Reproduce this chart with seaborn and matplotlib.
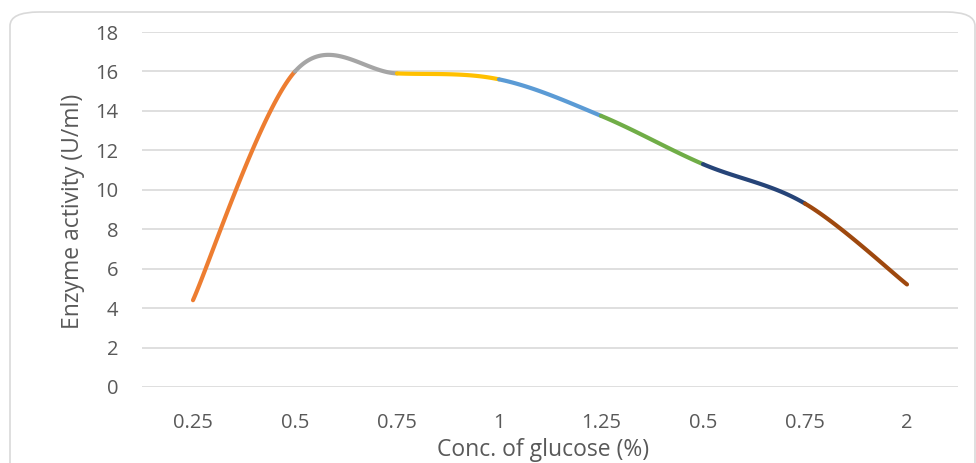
import numpy as np
import pandas as pd
import matplotlib
matplotlib.use("Agg")
import matplotlib.pyplot as plt
import seaborn as sns
from matplotlib.patches import FancyBboxPatch

# ---- data ----
categories = ["0.25", "0.5", "0.75", "1", "1.25", "0.5", "0.75", "2"]
activity = [4.4, 16.0, 15.9, 15.6, 13.75, 11.3, 9.3, 5.2]
segment_colors = ["#ED7D31", "#A5A5A5", "#FFC000", "#5B9BD5",
                  "#70AD47", "#264478", "#9E480E"]
y_ticks = [0, 2, 4, 6, 8, 10, 12, 14, 16, 18]
x_label = "Conc. of glucose (%)"
y_label = "Enzyme activity (U/ml)"

sns.set_theme(style="white")
plt.rcParams["font.family"] = ["Open Sans", "DejaVu Sans"]

fig = plt.figure(figsize=(9.76, 4.63), dpi=100)
# chart-area border (rounded, cropped at the bottom like the reference)
border = FancyBboxPatch((10 / 976, -0.1), (975 - 10) / 976, 1 - 12 / 463 + 0.1,
                        boxstyle="round,pad=0,rounding_size=0.03",
                        transform=fig.transFigure, facecolor="none",
                        edgecolor="#D9D9D9", linewidth=1.2, zorder=-5)
fig.patches.append(border)

ax = fig.add_axes([142 / 976, 1 - 387 / 463, (958 - 142) / 976, (387 - 32) / 463])
ax.set_facecolor("none")

x = np.arange(len(categories), dtype=float)
y = np.array(activity, dtype=float)
n = len(x)


def ctrl(i):
    # Catmull-Rom style tangents (as in Excel's smoothed line)
    im = max(i - 1, 0)
    ip = min(i + 1, n - 1)
    return np.array([x[ip] - x[im], y[ip] - y[im]]) / 6.0


t = np.linspace(0, 1, 60)
for i in range(n - 1):
    p0 = np.array([x[i], y[i]])
    p3 = np.array([x[i + 1], y[i + 1]])
    p1 = p0 + ctrl(i)
    p2 = p3 - ctrl(i + 1)
    bx = ((1 - t) ** 3) * p0[0] + 3 * ((1 - t) ** 2) * t * p1[0] + 3 * (1 - t) * t ** 2 * p2[0] + t ** 3 * p3[0]
    by = ((1 - t) ** 3) * p0[1] + 3 * ((1 - t) ** 2) * t * p1[1] + 3 * (1 - t) * t ** 2 * p2[1] + t ** 3 * p3[1]
    seg = pd.DataFrame({"x": bx, "y": by})
    sns.lineplot(data=seg, x="x", y="y", sort=False, ax=ax, color=segment_colors[i],
                 linewidth=3.0, solid_capstyle="round", zorder=3)

ax.set_xlim(-0.5, n - 0.5)
ax.set_ylim(0, 18)
ax.set_yticks(y_ticks)
ax.set_xticks(x)
ax.set_xticklabels(categories)
ax.yaxis.grid(True, color="#D9D9D9", linewidth=1.2)
ax.xaxis.grid(False)
for s in ax.spines.values():
    s.set_visible(False)
ax.tick_params(axis="both", length=0, labelsize=14.5, colors="#595959")
ax.tick_params(axis="x", pad=19)
ax.tick_params(axis="y", pad=17)
ax.set_xlabel(x_label, fontsize=16.5, color="#595959")
ax.set_ylabel(y_label, fontsize=16.5, color="#595959")
ax.xaxis.set_label_coords((543.5 - 142) / 816, (387 - 449.5) / 355)
ax.xaxis.label.set_va("center")
ax.yaxis.set_label_coords((73 - 142) / 816, (387 - 211) / 355)
ax.yaxis.label.set_va("center")

fig.savefig("out.png", dpi=100)
